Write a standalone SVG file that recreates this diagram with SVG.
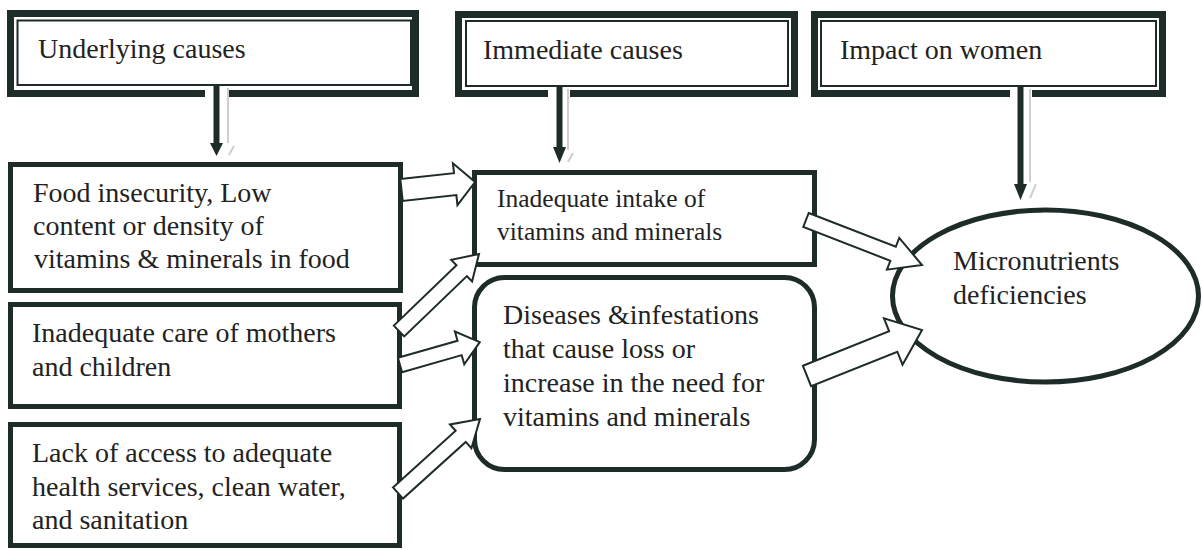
<svg xmlns="http://www.w3.org/2000/svg" width="1203" height="550" viewBox="0 0 1203 550">
<style>
.outer{fill:none;stroke:#1d2b29;stroke-width:7;}
.inner{fill:none;stroke:#1d2b29;stroke-width:2;}
.box{fill:#fff;stroke:#1d2b29;stroke-width:5;}
.blk{fill:#fff;stroke:#1d2b29;stroke-width:2;stroke-linejoin:miter;}
.shaft{stroke:#1d2b29;stroke-width:6;}
.head{fill:#1d2b29;}
.ghost{stroke:#cfcfcf;stroke-width:2;fill:none;}
</style>
<rect width="1203" height="550" fill="#fff"/>
<g font-size="28" fill="#222">
<g id="hdr-underlying">
<rect class="outer" x="10.5" y="13.5" width="405" height="80"/>
<rect class="inner" x="17.5" y="20.5" width="393.5" height="64.5"/>
<text font-family="Liberation Serif" x="38" y="58">Underlying causes</text>
</g>
<g id="hdr-immediate">
<rect class="outer" x="458.5" y="14.5" width="336" height="79"/>
<rect class="inner" x="466" y="21" width="322" height="65"/>
<text font-family="Liberation Serif" x="483" y="59">Immediate causes</text>
</g>
<g id="hdr-impact">
<rect class="outer" x="814.5" y="14.5" width="348" height="79"/>
<rect class="inner" x="821" y="21" width="335" height="65"/>
<text font-family="Liberation Serif" x="840" y="59">Impact on women</text>
</g>
<g id="food">
<rect class="box" x="10.5" y="164.5" width="390" height="126"/>
<text font-family="Liberation Serif" x="33" y="202">Food insecurity, Low</text>
<text font-family="Liberation Serif" x="33" y="235">content or density of</text>
<text font-family="Liberation Serif" x="34" y="268">vitamins &amp; minerals in food</text>
</g>
<g id="care">
<rect class="box" x="10.5" y="304.5" width="389" height="102"/>
<text font-family="Liberation Serif" x="32" y="342">Inadequate care of mothers</text>
<text font-family="Liberation Serif" x="32" y="376">and children</text>
</g>
<g id="access">
<rect class="box" x="10.5" y="424.5" width="389" height="121"/>
<text font-family="Liberation Serif" x="32" y="462">Lack of access to adequate</text>
<text font-family="Liberation Serif" x="32" y="496">health services, clean water,</text>
<text font-family="Liberation Serif" x="32" y="529">and sanitation</text>
</g>
<g id="intake">
<rect class="box" x="474.5" y="172.5" width="340" height="92"/>
<text font-family="Liberation Serif" font-size="25.5" x="497" y="207">Inadequate intake of</text>
<text font-family="Liberation Serif" font-size="25.5" x="497" y="240">vitamins and minerals</text>
</g>
<g id="diseases">
<rect class="box" x="474.5" y="277.5" width="340" height="192" rx="30" ry="30"/>
<text font-family="Liberation Serif" x="503" y="324">Diseases &amp;infestations</text>
<text font-family="Liberation Serif" x="503" y="358">that cause loss or</text>
<text font-family="Liberation Serif" x="503" y="392">increase in the need for</text>
<text font-family="Liberation Serif" x="503" y="426">vitamins and minerals</text>
</g>
<g id="deficiency">
<ellipse class="box" cx="1045.5" cy="296" rx="153" ry="86"/>
<text font-family="Liberation Serif" x="953" y="270">Micronutrients</text>
<text font-family="Liberation Serif" x="953" y="304">deficiencies</text>
</g>
</g>
<g id="connectors">
<rect x="205" y="86.5" width="23" height="12" fill="#fff"/>
<line class="ghost" x1="228" y1="88" x2="228" y2="143"/>
<line class="ghost" x1="229" y1="155" x2="234" y2="146"/>
<line class="shaft" x1="216.5" y1="86" x2="216.5" y2="144"/>
<polygon class="head" points="210,143 223,143 216.5,156"/>
<rect x="548" y="87.5" width="22" height="11" fill="#fff"/>
<line class="ghost" x1="568" y1="89" x2="568" y2="150"/>
<line class="ghost" x1="568" y1="162" x2="573" y2="153"/>
<line class="shaft" x1="559.5" y1="87" x2="559.5" y2="148"/>
<polygon class="head" points="553,147 566,147 559.5,163"/>
<rect x="1010" y="87.5" width="22" height="11" fill="#fff"/>
<line class="ghost" x1="1030" y1="89" x2="1030" y2="182"/>
<line class="ghost" x1="1030" y1="198" x2="1036" y2="184"/>
<line class="shaft" x1="1020.5" y1="87" x2="1020.5" y2="185"/>
<polygon class="head" points="1014,184 1027,184 1020.5,200"/>
<polygon class="blk" transform="translate(401.5,190) rotate(-6.2)" points="0,-11 54,-11 54,-21 74,0 54,21 54,11 0,11"/>
<polygon class="blk" transform="translate(399,331) rotate(-43.9)" points="0,-7.5 87,-7.5 87,-15 111,0 87,15 87,7.5 0,7.5"/>
<polygon class="blk" transform="translate(400,365) rotate(-16)" points="0,-7.5 62,-7.5 62,-17 83,0 62,17 62,7.5 0,7.5"/>
<polygon class="blk" transform="translate(398,493) rotate(-42.1)" points="0,-7.5 84.5,-7.5 84.5,-16 110.5,0 84.5,16 84.5,7.5 0,7.5"/>
<polygon class="blk" transform="translate(806,220) rotate(21.2)" points="0,-7.5 93.4,-7.5 93.4,-17 124.4,0 93.4,17 93.4,7.5 0,7.5"/>
<polygon class="blk" transform="translate(807,376) rotate(-21.8)" points="0,-11 92.9,-11 92.9,-25 123.9,0 92.9,25 92.9,11 0,11"/>
</g>
</svg>
